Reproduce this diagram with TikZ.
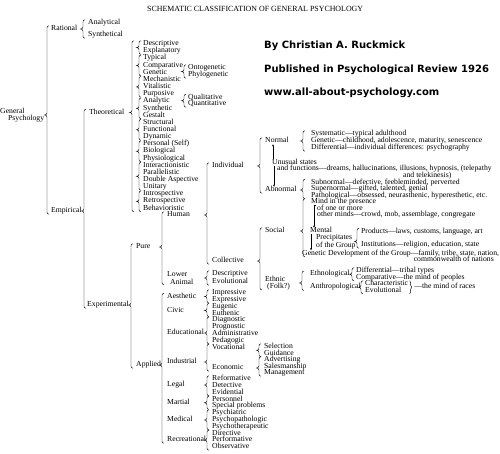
\documentclass[tikz,border=0pt]{standalone}
\usepackage{fontspec}
\setmainfont{Liberation Serif}
\newfontfamily\hdfont{DejaVu Sans}
\usepackage{tikz}
\usetikzlibrary{arrows.meta, calc, decorations.pathreplacing}

% curly brace in front of a list, its point turned to the parent
\newcommand\grp[4]{%
  \draw[brc] let \p1=(#3.north west), \p2=(#4.south west), \p3=(#2.center) in
    (\x1-#1+2pt,\y1) to[out=180,in=90] (\x1-#1,\y1-2pt)
    -- (\x1-#1,\y3+2pt) to[out=-90,in=0] (\x1-#1-2.5pt,\y3)
    to[out=0,in=90] (\x1-#1,\y3-2pt) -- (\x1-#1,\y2+2pt)
    to[out=-90,in=180] (\x1-#1+2pt,\y2);
}
% same, point in the middle of the list
\newcommand\sgrp[3]{%
  \coordinate (mid) at ($(#2.center)!.5!(#3.center)$);
  \grp{#1}{mid}{#2}{#3}
}

\begin{document}
\begin{tikzpicture}[x=1pt, y=-1pt,
  item/.style={anchor=west, inner sep=0pt, font=\fontsize{7.7}{7.7}\selectfont,
    text height=4.7pt, text depth=1.4pt},
  pair/.style={anchor=west, inner sep=0pt, align=left,
    font=\fontsize{7.7}{6.5}\selectfont},
  head/.style={anchor=west, inner sep=0pt,
    font=\hdfont\bfseries\fontsize{10}{10}\selectfont},
  brc/.style={line width=.45pt},
  arr/.style={-{Stealth[length=2.2pt, width=2pt]}, line width=.4pt}
]
  \path[use as bounding box, fill=white] (0,0) rectangle (500,453);

  % title and credits
  \node[item, font=\fontsize{7.9}{7.9}\selectfont] (title) at (147,10)
    {SCHEMATIC CLASSIFICATION OF GENERAL PSYCHOLOGY};
  \node[head] (by) at (264,46) {By Christian A. Ruckmick};
  \node[head] (pub) at (264,69.5) {Published in Psychological Review 1926};
  \node[head] (web) at (264,93) {www.all-about-psychology.com};

  % first split
  \node[pair] (gp) at (0,115) {General\\\hspace*{8pt}Psychology};
  \node[item] (rat) at (51,29) {Rational};
  \node[item] (emp) at (51,211) {Empirical};
  \node[item] (ana) at (88,23) {Analytical};
  \node[item] (syn) at (88,35) {Synthetical};
  \node[item] (theo) at (89,112.5) {Theoretical};
  \node[item] (expm) at (87,305) {Experimental};

  % theoretical
  \foreach \n/\t [count=\i from 0] in {des/Descriptive, exl/Explanatory,
      typ/Typical, cmp/Comparative, gen/Genetic, mec/Mechanistic,
      vit/Vitalistic, pur/Purposive, anl/Analytic, snt/Synthetic,
      ges/Gestalt, str/Structural, fun/Functional, dyn/Dynamic,
      pers/Personal (Self), bio/Biological, phys/Physiological,
      inter/Interactionistic, par/Parallelistic, dbl/Double Aspective,
      uni/Unitary, intro/Introspective, retro/Retrospective, beh/Behavioristic}
    \node[item] (\n) at (143,44+7.15*\i) {\t};
  \node[item] (onto) at (188,68) {Ontogenetic};
  \node[item] (phylo) at (188,75) {Phylogenetic};
  \node[item] (qual) at (188,97.5) {Qualitative};
  \node[item] (quan) at (188,104) {Quantitative};

  % experimental, pure
  \node[item] (pure) at (136,247) {Pure};
  \node[item] (appl) at (136,365) {Applied};
  \node[item] (hum) at (167,215) {Human};
  \node[pair, font=\fontsize{7.7}{7.7}\selectfont] (low) at (167,278) {Lower\\\hspace*{3pt}Animal};
  \node[item] (indv) at (212,166) {Individual};
  \node[item] (coll) at (212,261) {Collective};
  \node[item] (ldes) at (212,274) {Descriptive};
  \node[item] (levo) at (212,282) {Evolutional};

  \node[item] (norm) at (265,141) {Normal};
  \node[item] (abn) at (265,190) {Abnormal};
  \node[item] (sys) at (311,134) {Systematic—typical adulthood};
  \node[item] (ngen) at (311,141) {Genetic—childhood, adolescence, maturity, senescence};
  \node[item] (diff) at (311,148) {Differential—individual differences: psychography};
  \node[item] (uns) at (272,162.5) {Unusual states};
  \node[item] (fnc) at (277,169) {and functions—dreams, hallucinations, illusions, hypnosis, (telepathy};
  \node[item] (tele) at (403,175.5) {and telekinesis)};
  \node[item] (subn) at (311,182.5) {Subnormal—defective, feebleminded, perverted};
  \node[item] (supn) at (311,189) {Supernormal—gifted, talented, genial};
  \node[item] (patho) at (311,195.5) {Pathological—obsessed, neurasthenic, hyperesthetic, etc.};

  \node[item] (soc) at (265,231) {Social};
  \node[pair] (eth) at (265,283) {Ethnic\\\hspace*{2pt}(Folk?)};
  \node[item] (mind) at (311,202) {Mind in the presence};
  \node[item] (one) at (317,208.5) {of one or more};
  \node[item] (oth) at (317,215) {other minds—crowd, mob, assemblage, congregate};
  \node[item] (ment) at (310,231) {Mental};
  \node[pair] (prec) at (316,241.5) {Precipitates\\of the Group};
  \node[item] (prod) at (361,231.5) {Products—laws, customs, language, art};
  \node[item] (inst) at (361,245) {Institutions—religion, education, state};
  \node[item] (gdev) at (302,253.5) {Genetic Development of the Group—family, tribe, state, nation,};
  \node[item, anchor=east] (cwn) at (494,260) {commonwealth of nations};
  \node[item] (ethl) at (310,274.25) {Ethnological};
  \node[item] (anth) at (310,287.25) {Anthropological};
  \node[item] (tdif) at (356,271) {Differential—tribal types};
  \node[item] (tcmp) at (356,277.5) {Comparative—the mind of peoples};
  \node[item] (chr) at (365,284) {Characteristic};
  \node[item] (cevo) at (365,290.5) {Evolutional};
  \node[item] (race) at ([xshift=6pt]chr.east |- anth.west) {—the mind of races};

  % experimental, applied
  \foreach \n/\t/\y in {aes/Aesthetic/296.5, civ/Civic/310.5, edu/Educational/333,
      indu/Industrial/362, leg/Legal/385, mart/Martial/402.8, med/Medical/420,
      rec/Recreational/440}
    \node[item] (\n) at (167,\y) {\t};
  \foreach \n/\t [count=\i from 0] in {imp/Impressive, expr/Expressive,
      eug/Eugenic, eut/Euthenic, dia/Diagnostic, prog/Prognostic,
      adm/Administrative, ped/Pedagogic, voc/Vocational}
    \node[item] (\n) at (212,293+6.8*\i) {\t};
  \node[item] (eco) at (212,368) {Economic};
  \foreach \n/\t [count=\i from 0] in {ref/Reformative, det/Detective,
      evi/Evidential, pnl/Personnel, spec/Special problems, psyc/Psychiatric,
      ppat/Psychopathologic, pthe/Psychotherapeutic, dir/Directive,
      perf/Performative, obs/Observative}
    \node[item] (\n) at (212,379+6.8*\i) {\t};
  \foreach \n/\t [count=\i from 0] in {sel/Selection, gui/Guidance,
      adv/Advertising, sal/Salesmanship, man/Management}
    \node[item] (\n) at (264,347+6.5*\i) {\t};

  % braces
  \grp{4pt}{gp}{rat}{emp}
  \grp{5pt}{rat}{ana}{syn}
  \grp{5pt}{emp}{theo}{expm}
  \grp{11pt}{theo}{des}{beh}
  \sgrp{4pt}{des}{exl}
  \sgrp{4pt}{typ}{gen}
  \sgrp{4pt}{mec}{pur}
  \sgrp{4pt}{anl}{ges}
  \sgrp{4pt}{str}{dyn}
  \sgrp{4pt}{pers}{phys}
  \sgrp{4pt}{inter}{uni}
  \sgrp{4pt}{intro}{beh}
  \sgrp{4pt}{onto}{phylo}
  \sgrp{4pt}{qual}{quan}
  \grp{5pt}{expm}{pure}{appl}
  \grp{5pt}{pure}{hum}{low}
  \grp{5pt}{hum}{indv}{coll}
  \grp{5pt}{low}{ldes}{levo}
  \grp{5pt}{indv}{norm}{abn}
  \grp{8pt}{norm}{sys}{diff}
  \grp{8pt}{abn}{subn}{patho}
  \grp{5pt}{coll}{soc}{eth}
  \grp{8pt}{soc}{mind}{gdev}
  \grp{4pt}{prec}{prod}{inst}
  \grp{8pt}{eth}{ethl}{anth}
  \grp{4pt}{ethl}{tdif}{tcmp}
  \grp{4pt}{anth}{chr}{cevo}
  \draw[brc, decorate, decoration={brace, amplitude=2pt}]
    ([xshift=1.5pt]chr.north east) -- ([xshift=1.5pt]chr.east |- cevo.south);
  \grp{5pt}{appl}{aes}{rec}
  \grp{5pt}{aes}{imp}{expr}
  \grp{5pt}{civ}{eug}{eut}
  \grp{5pt}{edu}{dia}{ped}
  \grp{5pt}{indu}{voc}{eco}
  \grp{5pt}{leg}{ref}{evi}
  \grp{5pt}{mart}{pnl}{spec}
  \grp{5pt}{med}{psyc}{pthe}
  \grp{5pt}{rec}{dir}{obs}
  \sgrp{5pt}{sel}{gui}
  \grp{5pt}{eco}{adv}{man}

  % arrows between the states
  \draw[arr] ([xshift=1pt]uns.north west) -- ([xshift=1pt]uns.north west |- norm.south);
  \draw[arr] ([xshift=2pt]uns.south west) -- ([xshift=2pt]uns.south west |- abn.north);
  \draw[arr] ([xshift=-1pt]one.north west) -- ([xshift=-3pt]one.north west)
    -- ([xshift=-3pt]one.west |- ment.north);
  \draw[arr] ([xshift=1pt]ment.south west) -- ([xshift=1pt]ment.south west |- gdev.north);
\end{tikzpicture}
\end{document}
